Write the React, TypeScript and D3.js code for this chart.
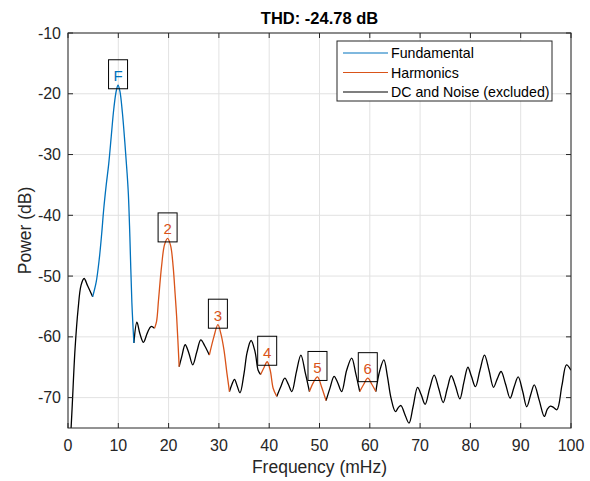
import React from "react";
import * as d3 from "d3";

const W = 590;
const H = 481;
const margin = { left: 68, right: 19, top: 33, bottom: 53 };

const xTicks = [0, 10, 20, 30, 40, 50, 60, 70, 80, 90, 100];
const yTicks = [-70, -60, -50, -40, -30, -20, -10];

const fundamental: [number, number][] = [
  [4.9, -53.4], [5.6, -51.0], [6.2, -47.3], [6.7, -43.0], [7.1, -39.0], [7.6, -35.0],
  [8.1, -31.5], [8.6, -27.0], [9.1, -22.5], [9.6, -19.5], [9.95, -18.6], [10.3, -19.5],
  [10.8, -23.0], [11.3, -28.0], [11.7, -32.5], [12.0, -36.5], [12.3, -43.5], [12.7, -54.4], [13.1, -61.0],
];

const harmonic2: [number, number][] = [
  [17.2, -58.6], [17.6, -57.5], [18.0, -53.9], [18.6, -48.4], [19.2, -44.8], [19.8, -43.8],
  [20.4, -45.0], [20.9, -48.4], [21.3, -53.0], [21.6, -56.7], [22.1, -64.9],
];
const harmonic3: [number, number][] = [
  [28.1, -63.0], [29.0, -60.0], [29.8, -58.0], [30.4, -59.5], [31.0, -62.1], [31.6, -66.0], [32.1, -69.0],
];
const harmonic4: [number, number][] = [
  [38.3, -66.2], [39.0, -65.0], [39.6, -64.1], [40.2, -65.5], [40.8, -68.5], [41.5, -69.8],
];
const harmonic5: [number, number][] = [
  [48.0, -69.0], [48.8, -67.5], [49.6, -66.6], [50.4, -68.2], [51.3, -70.5],
];
const harmonic6: [number, number][] = [
  [58.0, -69.0], [58.8, -67.8], [59.6, -66.8], [60.4, -67.8], [61.2, -69.0],
];

const noise1: [number, number][] = [
  [0.3, -80], [0.8, -72], [1.4, -62], [2.0, -55.5], [2.6, -51.5], [3.2, -50.4], [3.9, -51.6], [4.9, -53.4],
];
const noise2: [number, number][] = [
  [13.1, -61.0], [13.7, -57.6], [14.3, -59.5], [15.0, -60.9], [15.8, -59.3], [16.5, -58.3], [17.2, -58.6],
];
const noise3: [number, number][] = [
  [22.1, -64.9], [22.6, -63.3], [23.3, -61.3], [24.0, -62.6], [24.8, -64.6], [25.6, -62.5],
  [26.4, -60.5], [27.2, -61.5], [28.1, -63.0],
];
const noise4: [number, number][] = [
  [32.1, -69.0], [32.6, -67.8], [33.1, -67.0], [33.6, -68.0], [34.2, -69.2], [35.0, -66.0],
  [35.6, -62.6], [36.4, -60.6], [37.2, -62.5], [37.8, -65.5], [38.3, -66.2],
];
const noise5: [number, number][] = [
  [41.5, -69.8], [42.3, -68.2], [43.1, -66.8], [43.8, -67.8], [44.5, -69.0], [45.4, -65.8],
  [46.3, -63.0], [47.2, -66.0], [48.0, -69.0],
];
const noise6: [number, number][] = [
  [51.3, -70.5], [52.1, -68.4], [52.9, -66.5], [53.6, -67.5], [54.4, -69.0], [55.4, -65.5],
  [56.4, -63.5], [57.2, -66.0], [58.0, -69.0],
];
const noise7: [number, number][] = [
  [61.2, -69.0], [62.0, -65.5], [62.8, -63.8], [63.5, -66.5], [64.2, -70.0], [65.1, -72.3],
  [65.7, -71.6], [66.2, -71.3], [66.9, -72.6], [67.8, -74.2], [68.6, -71.5], [69.5, -68.3],
  [70.2, -69.5], [71.0, -71.1], [71.9, -68.5], [72.8, -66.3], [73.7, -68.5], [74.6, -70.8],
  [75.4, -68.5], [76.2, -66.4], [77.0, -68.0], [77.9, -70.2], [78.7, -67.5], [79.5, -65.0],
  [80.2, -66.5], [81.0, -68.2], [81.9, -65.5], [82.8, -63.0], [83.7, -65.5], [84.6, -68.3],
  [85.3, -67.0], [86.1, -65.7], [87.0, -67.8], [87.9, -70.1], [88.7, -68.2], [89.5, -66.6],
  [90.4, -69.0], [91.2, -71.5], [92.0, -69.5], [92.7, -67.9], [93.7, -70.5], [94.7, -73.1],
  [95.3, -71.9], [95.9, -71.4], [96.5, -71.6], [97.2, -72.0], [98.2, -68.0], [99.1, -64.6], [100, -65.5],
];

const harmonics = [harmonic2, harmonic3, harmonic4, harmonic5, harmonic6];
const noise = [noise1, noise2, noise3, noise4, noise5, noise6, noise7];

const peakLabels = ["F", "2", "3", "4", "5", "6"];
const peakFreq = [9.95, 19.8, 29.8, 39.6, 49.6, 59.6];
const peakPower = [-18.6, -43.8, -58.0, -64.1, -66.6, -66.8];

const legendLabels = ["Fundamental", "Harmonics", "DC and Noise (excluded)"];

const BLUE = "#0072BD";
const ORANGE = "#D95319";
const BLACK = "#000000";
const AX = "#262626";
const FONT = "'Liberation Sans', Arial, Helvetica, sans-serif";

export default function App() {
  const x0 = margin.left;
  const x1 = W - margin.right;
  const y0 = margin.top;
  const y1 = H - margin.bottom;
  const x = d3.scaleLinear().domain([0, 100]).range([x0, x1]);
  const y = d3.scaleLinear().domain([-75, -10]).range([y1, y0]);
  const line = d3
    .line<[number, number]>()
    .x((d) => x(d[0]))
    .y((d) => y(d[1]))
    .curve(d3.curveCatmullRom.alpha(0.5));

  const legendColors = [BLUE, ORANGE, BLACK];
  const lg = { x: 337, y: 41, w: 215, h: 60 };

  return (
    <svg width={W} height={H} style={{ position: "absolute", left: 0, top: 0, background: "#fff" }} fontFamily={FONT}>
      <defs>
        <clipPath id="plotClip">
          <rect x={x0} y={y0} width={x1 - x0} height={y1 - y0} />
        </clipPath>
      </defs>
      <rect x={x0} y={y0} width={x1 - x0} height={y1 - y0} fill="#fff" />
      {/* grid */}
      {xTicks.map((t) => (
        <line key={"gx" + t} x1={x(t)} x2={x(t)} y1={y0} y2={y1} stroke="#e2e2e2" strokeWidth={1} />
      ))}
      {yTicks.map((t) => (
        <line key={"gy" + t} x1={x0} x2={x1} y1={y(t)} y2={y(t)} stroke="#e2e2e2" strokeWidth={1} />
      ))}
      {/* data */}
      <g clipPath="url(#plotClip)" fill="none" strokeWidth={1.3}>
        {noise.map((seg, i) => (
          <path key={"n" + i} d={line(seg) || ""} stroke={BLACK} />
        ))}
        <path d={line(fundamental) || ""} stroke={BLUE} />
        {harmonics.map((seg, i) => (
          <path key={"h" + i} d={line(seg) || ""} stroke={ORANGE} />
        ))}
      </g>
      {/* peak labels */}
      {peakLabels.map((lab, i) => {
        const cx = x(peakFreq[i]);
        const by = y(peakPower[i]) + 3.5;
        return (
          <g key={"pl" + i}>
            <rect x={cx - 9.5} y={by - 29} width={19} height={29} fill="none" stroke="#000" strokeWidth={1} />
            <text x={cx} y={by - 7.5} textAnchor="middle" fontSize={15} fill={i === 0 ? BLUE : ORANGE}>
              {lab}
            </text>
          </g>
        );
      })}
      {/* axes box */}
      <rect x={x0} y={y0} width={x1 - x0} height={y1 - y0} fill="none" stroke={AX} strokeWidth={1} />
      {xTicks.map((t) => (
        <g key={"tx" + t}>
          <line x1={x(t)} x2={x(t)} y1={y1} y2={y1 - 5} stroke={AX} />
          <line x1={x(t)} x2={x(t)} y1={y0} y2={y0 + 5} stroke={AX} />
          <text x={x(t)} y={y1 + 23} textAnchor="middle" fontSize={16} fill={AX}>
            {t}
          </text>
        </g>
      ))}
      {yTicks.map((t) => (
        <g key={"ty" + t}>
          <line x1={x0} x2={x0 + 5} y1={y(t)} y2={y(t)} stroke={AX} />
          <line x1={x1} x2={x1 - 5} y1={y(t)} y2={y(t)} stroke={AX} />
          <text x={x0 - 7} y={y(t) + 5.5} textAnchor="end" fontSize={16} fill={AX}>
            {t}
          </text>
        </g>
      ))}
      {/* legend */}
      <rect x={lg.x} y={lg.y} width={lg.w} height={lg.h} fill="#fff" stroke={AX} strokeWidth={1} />
      {legendLabels.map((lab, i) => {
        const ly = lg.y + 12 + i * 19.5;
        return (
          <g key={"lg" + i}>
            <line x1={lg.x + 6} x2={lg.x + 51} y1={ly} y2={ly} stroke={legendColors[i]} strokeWidth={1.2} />
            <text x={lg.x + 54} y={ly + 5} fontSize={14.2} fill="#000">
              {lab}
            </text>
          </g>
        );
      })}
      {/* labels */}
      <text x={(x0 + x1) / 2} y={24} textAnchor="middle" fontSize={16.5} fontWeight="bold" fill="#000">
        THD: -24.78 dB
      </text>
      <text x={(x0 + x1) / 2} y={y1 + 45} textAnchor="middle" fontSize={17.5} fill={AX}>
        Frequency (mHz)
      </text>
      <text
        transform={`translate(${31},${(y0 + y1) / 2}) rotate(-90)`}
        textAnchor="middle"
        fontSize={17.5}
        fill={AX}
      >
        Power (dB)
      </text>
    </svg>
  );
}
